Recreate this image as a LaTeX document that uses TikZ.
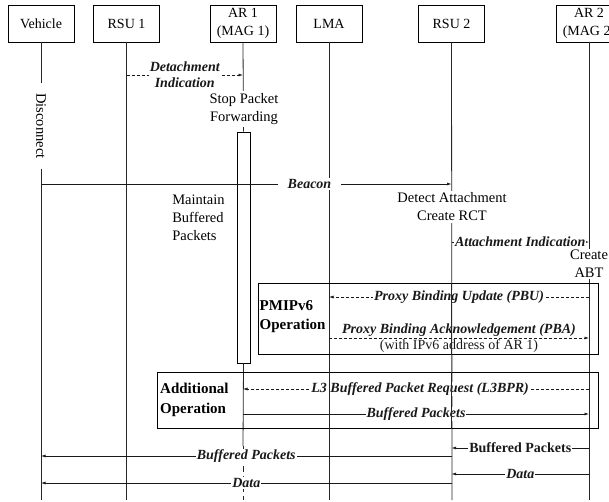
\documentclass[tikz,border=0pt]{standalone}
\usepackage{fontspec}
\setmainfont{Liberation Serif}
\usetikzlibrary{arrows.meta}
\begin{document}
\begin{tikzpicture}[x=1pt,y=-1pt,
  actor/.style={draw, line width=0.8pt, minimum width=66pt, minimum height=37pt,
    inner sep=1pt, align=center, font=\fontsize{14}{18}\selectfont},
  life/.style={line width=0.8pt, black!85},
  note/.style={fill=white, inner sep=2pt, align=center, font=\fontsize{14.5}{18}\selectfont},
  msg/.style={fill=white, inner sep=1pt, align=center, font=\fontsize{14}{16}\selectfont\bfseries\itshape},
  frame/.style={draw, line width=1pt},
  framelbl/.style={inner sep=0pt, align=left, font=\fontsize{15}{19.5}\selectfont\bfseries},
  tip/.style={-{Latex[length=4.5pt,width=3pt]}},
  sarr/.style={tip, line width=0.7pt, black!90},
  darr/.style={tip, line width=0.7pt, black!90, dash pattern=on 3pt off 2pt}]
\useasboundingbox (0,0) rectangle (609,502);

% participants
\node[actor] (veh)  at (41,23.5)   {Vehicle};
\node[actor] (rsu1) at (126.5,23.5) {RSU 1};
\node[actor] (ar1)  at (243,23.5)  {AR 1\\(MAG 1)};
\node[actor] (lma)  at (329,23.5)  {LMA};
\node[actor] (rsu2) at (451.5,23.5) {RSU 2};
\node[actor] (ar2)  at (589,23.5)  {AR 2\\(MAG 2)};

% lifeline ends
\coordinate (vehB)  at (41,500);
\coordinate (rsu1B) at (126.5,500);
\coordinate (ar1M)  at (243,446);
\coordinate (ar1B)  at (243,500);
\coordinate (lmaB)  at (329,500);
\coordinate (rsu2B) at (452,500);
\coordinate (ar2B)  at (589,500);

% activation bar on AR 1
\node[draw, line width=0.8pt, fill=white, minimum width=13pt, minimum height=231pt,
  inner sep=0pt] (act) at (243.5,247.5) {};

% lifelines
\node[note, rotate=-90, inner xsep=10pt, inner ysep=0pt] (disc) at (41,126) {Disconnect};
\draw[life] (veh.south) -- (disc.west);
\draw[life] (disc.east) -- (vehB);
\draw[life] (rsu1.south) -- (rsu1B);
\draw[life] (ar1.south) -- (act.north);
\draw[life] (act.south) -- (ar1M);
\draw[life, dash pattern=on 6pt off 4pt] (ar1M) -- (ar1B);
\draw[life] (lma.south) -- (lmaB);
\draw[life] (rsu2.south) -- (rsu2B);
\draw[life] (ar2.south) -- (ar2B);

% local notes
\node[note] (stop) at (244,109) {Stop Packet\\Forwarding};
\node[note, align=left, fill=none] (maint) at (198.5,218) {Maintain\\Buffered\\Packets};
\node[note] (detect) at (452,207) {Detect Attachment\\Create RCT};
\node[note, inner sep=1pt] (abt) at (589,264) {Create\\ABT};

% messages
\draw[darr] (rsu1 |- 0,75) -- (ar1 |- 0,75)
  node[midway, msg, font=\fontsize{14}{16}\selectfont\bfseries\itshape] {Detachment\\Indication};
\draw[sarr] (veh |- 0,184) -- (rsu2 |- 0,184)
  node[pos=0.654, msg, inner xsep=10pt] {Beacon};
\draw[darr] (rsu2 |- 0,242) -- (ar2 |- 0,242)
  node[midway, msg] {Attachment Indication};

% PMIPv6 operation
\draw[darr] (ar2 |- 0,297) -- (lma |- 0,297)
  node[midway, msg] {Proxy Binding Update (PBU)};
\draw[darr] (lma |- 0,338) -- (ar2 |- 0,338)
  node[midway, above, msg, fill=none, inner sep=1.5pt] {Proxy Binding Acknowledgement (PBA)}
  node[midway, below, inner sep=1.5pt, font=\fontsize{14}{16}\selectfont] {(with IPv6 address of AR 1)};

% additional operation
\draw[darr] (ar2 |- 0,389) -- (ar1 |- 0,389)
  node[pos=0.488, msg] {L3 Buffered Packet Request (L3BPR)};
\draw[sarr] (ar1 |- 0,414) -- (ar2 |- 0,414)
  node[midway, msg] {Buffered Packets};

% delivery to the vehicle
\draw[sarr] (ar2 |- 0,448) -- (rsu2 |- 0,448)
  node[midway, msg, font=\fontsize{14}{16}\selectfont\bfseries] {Buffered Packets};
\draw[sarr] (rsu2 |- 0,456) -- (veh |- 0,456)
  node[midway, msg] {Buffered Packets};
\draw[sarr] (ar2 |- 0,474) -- (rsu2 |- 0,474)
  node[midway, msg] {Data};
\draw[sarr] (rsu2 |- 0,483) -- (veh |- 0,483)
  node[midway, msg] {Data};

% operation frames
\node[frame, minimum width=340pt, minimum height=71pt, inner sep=0pt] (pmip) at (428,318.5) {};
\node[frame, minimum width=441pt, minimum height=56pt, inner sep=0pt] (addl) at (377.5,400) {};
\node[framelbl, anchor=west] (pmipl) at (259.5,316.5) {PMIPv6\\Operation};
\node[framelbl, anchor=west] (addll) at (160,400) {Additional\\Operation};

% lifelines running through the frames
\draw[life] (rsu2 |- pmip.north) -- (rsu2 |- pmip.south);
\draw[life] (rsu2 |- addl.north) -- (rsu2 |- addl.south);
\draw[life] (lma |- addl.north) -- (lma |- addl.south);
\end{tikzpicture}
\end{document}
